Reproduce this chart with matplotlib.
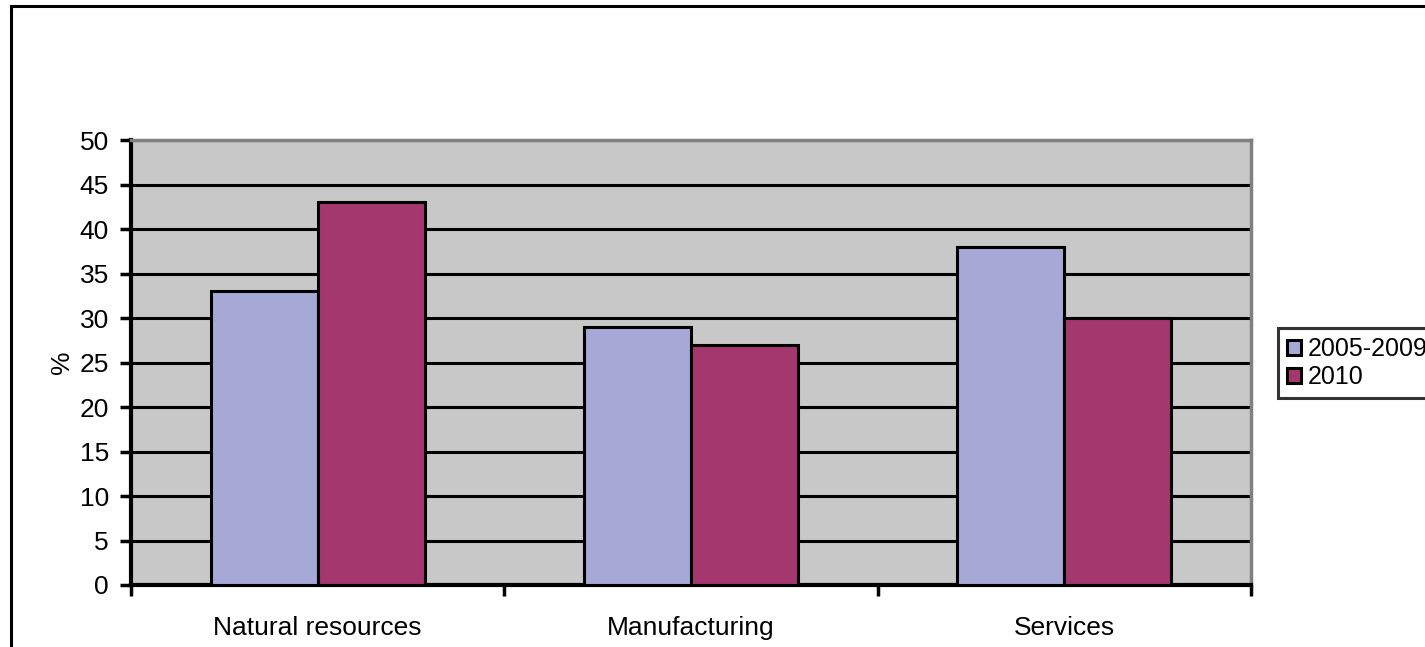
import matplotlib
matplotlib.use("Agg")
import matplotlib.pyplot as plt
from matplotlib.patches import Rectangle
import numpy as np

categories = ["Natural resources", "Manufacturing", "Services"]
series_names = ["2005-2009", "2010"]
vals_2005_2009 = [33, 29, 38]
vals_2010 = [43, 27, 30]
yticks = [0, 5, 10, 15, 20, 25, 30, 35, 40, 45, 50]

plt.rcParams['font.family'] = ['Liberation Sans', 'DejaVu Sans']

W, H = 1425, 647
fig = plt.figure(figsize=(W / 100, H / 100), dpi=100)
fig.patch.set_facecolor("white")

# outer chart border (cut off at right and bottom)
fig.patches.append(Rectangle((11 / W, -0.1), 2.0, 1.1 - 6 / H, transform=fig.transFigure,
                             fill=False, edgecolor="black", linewidth=2.2, clip_on=False))

ax = fig.add_axes([131 / W, 1 - 585 / H, (1251 - 131) / W, (585 - 140) / H])
ax.set_facecolor("#c8c8c8")

x = np.arange(len(categories))
bw = 0.287
ax.bar(x - bw / 2, vals_2005_2009, bw, color="#a6a8d6", edgecolor="black", linewidth=2.2,
       label=series_names[0], zorder=3)
ax.bar(x + bw / 2, vals_2010, bw, color="#a4386e", edgecolor="black", linewidth=2.2,
       label=series_names[1], zorder=3)

ax.set_xlim(-0.5, 2.5)
ax.set_ylim(0, 50)
ax.set_yticks(yticks)
ax.set_yticklabels([str(v) for v in yticks], fontsize=19)
ax.yaxis.grid(True, color="black", linewidth=2.2, zorder=1)
ax.set_axisbelow(True)

ax.set_xticks([-0.5, 0.5, 1.5, 2.5])
ax.set_xticklabels([])
ax.set_xticks(x, minor=True)
ax.set_xticklabels(categories, minor=True, fontsize=19)
ax.tick_params(axis="x", which="minor", length=0, pad=22)
ax.tick_params(axis="x", which="major", length=8, width=2.5, direction="out")
ax.tick_params(axis="y", length=8, width=2.5, direction="out", pad=8)

for s in ["left", "bottom"]:
    ax.spines[s].set_linewidth(3)
    ax.spines[s].set_color("black")
for s in ["top", "right"]:
    ax.spines[s].set_linewidth(2.5)
    ax.spines[s].set_color("#808080")

ax.set_ylabel("%", fontsize=19, labelpad=4)

leg = ax.legend(loc="center left", bbox_to_anchor=(1278 / W, 1 - 363 / H),
                bbox_transform=fig.transFigure, fontsize=18, frameon=True,
                fancybox=False, edgecolor="black", handlelength=0.55, handleheight=0.55,
                handletextpad=0.3, borderpad=0.35, labelspacing=0.15, borderaxespad=0)
leg.get_frame().set_linewidth(2.2)

fig.savefig("out.png", dpi=100)
